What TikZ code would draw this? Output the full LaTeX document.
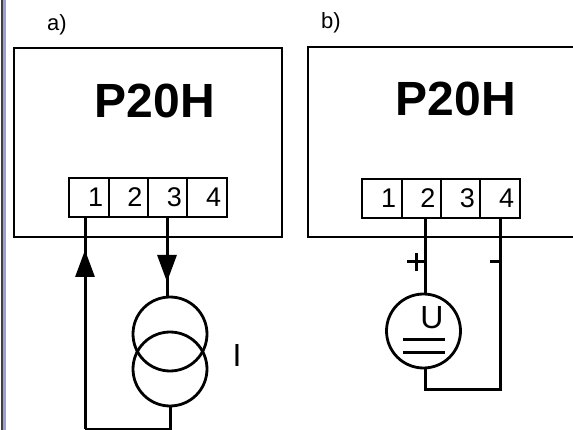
\documentclass[tikz,border=0pt]{standalone}
\usepackage{fontspec}
\setmainfont{Liberation Sans}
\usetikzlibrary{matrix,calc,arrows.meta}
\definecolor{edgeblue}{rgb}{0.62,0.62,0.85}
\tikzset{
  wire/.style={line width=3pt},
  thinwire/.style={line width=2.2pt},
  bigarrow/.style={-{Triangle[length=27pt,width=19pt]}},
  title/.style={font=\fontsize{48}{48}\selectfont\bfseries,inner sep=0pt},
  caption/.style={font=\fontsize{22}{22}\selectfont,inner sep=0pt},
  symb/.style={circle,draw,line width=2.8pt,minimum size=74pt,inner sep=0pt},
  terminals/.style={matrix of nodes,nodes in empty cells,ampersand replacement=\&,
    column sep=-2pt,inner sep=0pt,
    nodes={draw,line width=2pt,minimum height=39pt,text width=28.3pt,inner xsep=5.5pt,
      inner ysep=0pt,align=right,font=\fontsize{27}{27}\selectfont}},
}
\begin{document}
\begin{tikzpicture}[x=1pt,y=-1pt]
    \useasboundingbox (0,0) rectangle (573,430);
    % window edge
    \fill[black!75] (0.8,0) rectangle (3,430);
    \fill[edgeblue] (3,0) rectangle (6,430);

    % a)
    \node[caption] (capA) at (57,25) {a)};
    \draw[thinwire] (14,48) rectangle (282,237);
    \node[title] (titleA) at (155,101) {P20H};
    \matrix (TA) [terminals] at (148,197.5) {
      1 \& 2 \& 3 \& 4\\
    };
    \node[symb] (srcA1) at (170,334) {};
    \node[symb] (srcA2) at (170,369) {};
    \node[caption,font=\fontsize{32}{32}\selectfont] (labI) at (237,355) {I};
    \coordinate (tipA1) at (85,250);
    \coordinate (tipA3) at (167,282);
    \coordinate (cornA) at (85,429);
    \draw[wire] (85,217) -- (85,262);
    \draw[wire,bigarrow] (cornA) -- (tipA1);
    \draw[wire,bigarrow] (167,217) -- (tipA3);
    \draw[wire] (167,270) -- (srcA1.north -| tipA3);
    \draw[wire] (srcA2.south) -- (srcA2.south |- 0,430.5);
    \draw[wire] (171.5,429) -- (cornA);

    % b)
    \node[caption] (capB) at (331,23) {b)};
    \draw[thinwire] (573,47) -- (308,47) -- (308,237) -- (573,237);
    \node[title] (titleB) at (456,99) {P20H};
    \matrix (TB) [terminals] at (441,198.5) {
      1 \& 2 \& 3 \& 4\\
    };
    \node[symb] (srcB) at (423.5,331) {};
    \node[font=\fontsize{32}{32}\selectfont,inner sep=0pt] (labU) at (432,318) {U};
    \coordinate (cornB) at (500,389);
    \draw[wire] (425,218) -- (srcB.north -| 425,0);
    \draw[wire] (500,218) -- (500,390.5);
    \draw[wire] (cornB) -- (423.5,389);
    \draw[wire] (425,369) -- (425,390.5);
    \draw[wire] (403,340) -- (445,340);
    \draw[wire] (403,352) -- (445,352);
    \draw[wire] (407,262) -- (425,262);
    \draw[wire] (416,253) -- (416,271);
    \draw[wire] (490,262) -- (500,262);
\end{tikzpicture}
\end{document}
